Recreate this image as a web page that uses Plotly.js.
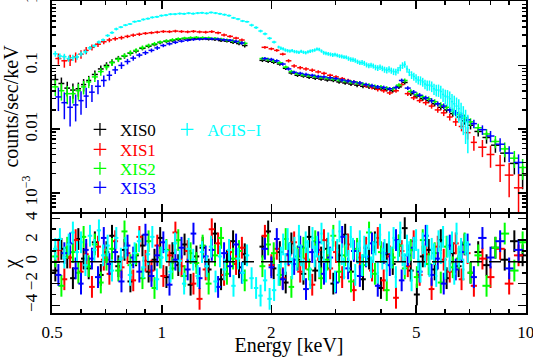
<!DOCTYPE html>
<html>
<head>
<meta charset="utf-8">
<script src="https://cdn.plot.ly/plotly-3.0.1.min.js"></script>
<style>
  html, body { margin: 0; padding: 0; background: #fff; }
  #chart { width: 533px; height: 357px; }
</style>
</head>
<body>
<div id="chart"></div>
<script>
// bin centres (keV): XIS0/XIS2 share grid A, XIS1/XIS3 grid B, ACIS-I its own
const eGridA = [0.51, 0.53, 0.55, 0.57, 0.59, 0.61, 0.63, 0.655, 0.68, 0.705, 0.73, 0.76, 0.79, 0.82, 0.85,
    0.885, 0.92, 0.955, 0.99, 1.03, 1.07, 1.11, 1.155, 1.2, 1.245, 1.295, 1.345, 1.4, 1.455, 1.51, 1.57, 1.63, 1.69,
    1.89, 1.96, 2.03, 2.11, 2.19, 2.27, 2.36, 2.45, 2.54, 2.64, 2.74, 2.85, 2.96, 3.07, 3.19, 3.31, 3.44, 3.57,
    3.71, 3.85, 4.0, 4.15, 4.31, 4.48, 4.65, 4.83, 5.02, 5.21, 5.41, 5.62, 5.84, 6.06, 6.3, 6.54, 6.79, 7.05,
    7.4, 7.8, 8.25, 8.75, 9.3, 9.8];
const eGridB = [0.52, 0.54, 0.56, 0.58, 0.60, 0.62, 0.643, 0.668, 0.693, 0.718, 0.745, 0.775, 0.805, 0.835, 0.868,
    0.902, 0.937, 0.972, 1.01, 1.05, 1.09, 1.133, 1.178, 1.222, 1.27, 1.32, 1.372, 1.428, 1.483, 1.54, 1.6, 1.66,
    1.92, 2.0, 2.07, 2.15, 2.23, 2.31, 2.4, 2.49, 2.59, 2.69, 2.79, 2.9, 3.01, 3.13, 3.25, 3.37, 3.5, 3.64,
    3.78, 3.92, 4.07, 4.23, 4.4, 4.56, 4.74, 4.92, 5.11, 5.31, 5.51, 5.73, 5.95, 6.18, 6.42, 6.66, 6.92,
    7.2, 7.6, 8.0, 8.5, 9.0, 9.55];
const eAcis = [0.51, 0.525, 0.54, 0.555, 0.57, 0.585, 0.60, 0.617, 0.635, 0.653, 0.672, 0.69,
    0.71, 0.73, 0.75, 0.772, 0.795, 0.818, 0.842, 0.866, 0.89, 0.916, 0.942, 0.97, 0.998, 1.027, 1.057, 1.088,
    1.12, 1.152, 1.185, 1.22, 1.255, 1.29, 1.328, 1.366, 1.405, 1.445, 1.487, 1.53, 1.574, 1.62, 1.667, 1.715,
    1.765, 1.816, 1.868, 1.922, 1.978, 2.035,
    2.094, 2.124, 2.155, 2.186, 2.217, 2.249, 2.281, 2.314, 2.347, 2.381,
    2.415, 2.45, 2.485, 2.521, 2.557, 2.594, 2.631, 2.669, 2.707, 2.746,
    2.785, 2.825, 2.866, 2.907, 2.949, 2.991, 3.034, 3.078, 3.122, 3.167,
    3.212, 3.258, 3.305, 3.352, 3.4, 3.45, 3.5, 3.55, 3.6, 3.652,
    3.705, 3.757, 3.81, 3.865, 3.92, 3.977, 4.035, 4.092, 4.15, 4.21,
    4.27, 4.332, 4.395, 4.457, 4.52, 4.585, 4.65, 4.717, 4.785, 4.855,
    4.925, 4.995, 5.065, 5.137, 5.21, 5.285, 5.36, 5.437, 5.515, 5.595,
    5.675, 5.757, 5.84, 5.925, 6.01, 6.095, 6.18, 6.27, 6.36, 6.452,
    6.545, 6.64, 6.735, 6.832, 6.93];

// counts/sec/keV
const rateXis0 = [0.060, 0.052, 0.044, 0.041, 0.043, 0.050, 0.058, 0.072, 0.088, 0.100, 0.112, 0.128, 0.140, 0.155,
    0.168, 0.185, 0.200, 0.212, 0.228, 0.238, 0.245, 0.255, 0.262, 0.258, 0.265, 0.262, 0.258, 0.255, 0.245,
    0.240, 0.230, 0.220, 0.205,
    0.120, 0.116, 0.112, 0.105, 0.090, 0.076, 0.070, 0.068, 0.065, 0.063, 0.061, 0.059, 0.058, 0.055, 0.053,
    0.051, 0.049, 0.047, 0.046, 0.044, 0.043, 0.042, 0.040, 0.046, 0.054, 0.036, 0.033, 0.030, 0.028, 0.025,
    0.022, 0.020, 0.0175, 0.0155, 0.0135, 0.0115, 0.0092, 0.0074, 0.0056, 0.0042, 0.0029, 0.0019];
const rateXis1 = [0.128, 0.118, 0.122, 0.135, 0.150, 0.172, 0.192, 0.215, 0.235, 0.250, 0.262, 0.272, 0.285, 0.298,
    0.308, 0.318, 0.325, 0.332, 0.340, 0.338, 0.345, 0.340, 0.336, 0.342, 0.335, 0.332, 0.338, 0.325, 0.300,
    0.285, 0.268, 0.250,
    0.192, 0.182, 0.172, 0.150, 0.118, 0.098, 0.092, 0.088, 0.084, 0.079, 0.075, 0.070, 0.066, 0.062, 0.058,
    0.055, 0.052, 0.048, 0.045, 0.042, 0.040, 0.037, 0.040, 0.050, 0.036, 0.031, 0.028, 0.026, 0.023, 0.020,
    0.018, 0.0155, 0.013, 0.011, 0.0088, 0.0062, 0.0052, 0.0040, 0.0027, 0.0019, 0.0012];
const rateXis2 = [0.046, 0.040, 0.036, 0.036, 0.040, 0.046, 0.055, 0.066, 0.080, 0.095, 0.110, 0.125, 0.142, 0.158,
    0.172, 0.190, 0.205, 0.218, 0.232, 0.242, 0.252, 0.262, 0.268, 0.272, 0.275, 0.272, 0.270, 0.265, 0.258,
    0.250, 0.242, 0.232, 0.222,
    0.128, 0.124, 0.118, 0.110, 0.094, 0.080, 0.074, 0.071, 0.069, 0.067, 0.065, 0.063, 0.061, 0.059, 0.057,
    0.055, 0.053, 0.051, 0.049, 0.047, 0.046, 0.044, 0.043, 0.049, 0.058, 0.039, 0.035, 0.032, 0.030, 0.027,
    0.024, 0.022, 0.019, 0.017, 0.015, 0.013, 0.0105, 0.0084, 0.0064, 0.0049, 0.0035, 0.0025];
const rateXis3 = [0.032, 0.026, 0.022, 0.024, 0.028, 0.033, 0.038, 0.047, 0.058, 0.070, 0.085, 0.100, 0.115, 0.130,
    0.145, 0.158, 0.172, 0.188, 0.205, 0.218, 0.230, 0.240, 0.248, 0.255, 0.258, 0.262, 0.260, 0.258, 0.252,
    0.248, 0.238, 0.225,
    0.128, 0.124, 0.118, 0.105, 0.088, 0.078, 0.075, 0.072, 0.070, 0.067, 0.066, 0.064, 0.062, 0.059, 0.057,
    0.055, 0.053, 0.050, 0.048, 0.046, 0.045, 0.043, 0.045, 0.058, 0.044, 0.038, 0.034, 0.031, 0.028, 0.025,
    0.023, 0.020, 0.018, 0.016, 0.014, 0.0122, 0.0098, 0.0078, 0.0058, 0.0042, 0.0030];
const rateAcis = [0.152, 0.140, 0.137, 0.128, 0.132, 0.136, 0.151, 0.163, 0.188, 0.203, 0.232, 0.251,
    0.294, 0.326, 0.372, 0.398, 0.428, 0.446, 0.485, 0.497, 0.525, 0.541, 0.566, 0.578, 0.604, 0.615, 0.636,
    0.638, 0.650, 0.644, 0.660, 0.648, 0.662, 0.668, 0.655, 0.676, 0.662, 0.645, 0.625, 0.604, 0.556, 0.534,
    0.497, 0.484, 0.428, 0.392, 0.346, 0.312, 0.266, 0.232,
    0.194, 0.186, 0.182, 0.174, 0.170, 0.168, 0.171, 0.165, 0.163, 0.160,
    0.166, 0.161, 0.158, 0.163, 0.167, 0.170, 0.174, 0.180, 0.178, 0.168,
    0.158, 0.155, 0.152, 0.149, 0.146, 0.148, 0.144, 0.140, 0.138, 0.135,
    0.134, 0.128, 0.124, 0.123, 0.120, 0.114, 0.110, 0.111, 0.108, 0.102,
    0.099, 0.101, 0.098, 0.093, 0.091, 0.094, 0.090, 0.086, 0.084, 0.087,
    0.083, 0.080, 0.079, 0.084, 0.092, 0.100, 0.104, 0.088, 0.078, 0.071,
    0.067, 0.063, 0.059, 0.058, 0.055, 0.051, 0.049, 0.049, 0.047, 0.043,
    0.041, 0.041, 0.039, 0.035, 0.033, 0.032, 0.030, 0.027, 0.025, 0.023,
    0.021, 0.018, 0.0155, 0.013, 0.0105];

// 1-sigma errors of the rates, in percent
const errXis0 = [22, 24, 26, 27, 25, 22, 18, 15, 13, 12, 11, 10, 9, 8, 8, 7, 7, 6, 6, 6, 6, 5, 5, 5, 5, 5, 5, 5, 5,
    5, 6, 6, 7,
    6, 6, 6, 6, 6, 6, 6, 6, 6, 6, 6, 6, 6, 6, 6, 7, 7, 7, 7, 7, 7, 7, 7, 7, 7, 8, 8, 8, 9, 9, 10, 10, 11, 12, 13,
    14, 17, 20, 24, 28, 33, 40];
const errXis1 = [20, 22, 20, 18, 15, 13, 11, 10, 9, 8, 7, 7, 6, 6, 6, 5, 5, 5, 5, 5, 5, 5, 5, 5, 5, 5, 5, 5, 5, 5,
    5, 6,
    5, 5, 5, 5, 6, 6, 6, 6, 6, 6, 6, 6, 6, 6, 6, 6, 7, 7, 7, 7, 7, 7, 7, 7, 8, 8, 8, 9, 9, 10, 11, 12, 14, 16, 22,
    26, 30, 38, 45, 55, 65];
const errXis2 = [28, 30, 32, 30, 28, 24, 20, 17, 14, 12, 11, 10, 9, 9, 8, 8, 7, 7, 6, 6, 6, 5, 5, 5, 5, 5, 5, 5, 5,
    6, 6, 6, 7,
    6, 6, 6, 6, 6, 6, 6, 6, 6, 6, 6, 6, 6, 6, 6, 7, 7, 7, 7, 7, 7, 7, 7, 7, 7, 8, 8, 8, 9, 9, 10, 10, 11, 12, 13,
    14, 16, 19, 22, 26, 30, 36];
const errXis3 = [40, 45, 50, 45, 40, 35, 30, 25, 20, 17, 14, 12, 10, 9, 8, 8, 7, 7, 6, 6, 6, 5, 5, 5, 5, 5, 5, 5, 5,
    5, 6, 6,
    6, 6, 6, 6, 6, 6, 6, 6, 6, 6, 6, 6, 6, 6, 6, 6, 7, 7, 7, 7, 7, 7, 7, 7, 7, 8, 8, 8, 9, 9, 10, 10, 11, 12, 13,
    15, 17, 20, 24, 28, 34];
const errAcis = [10, 10, 11, 11, 11, 10, 9, 8, 7, 6, 6, 5,
    5, 5, 5, 4, 4, 4, 4, 4, 4, 4, 4, 4, 4, 4, 4, 4, 4, 4, 4,
    4, 4, 4, 4, 4, 4, 4, 4, 4, 4, 4, 4, 4, 5,
    5, 5, 5, 5, 5,
    5, 6, 6, 6, 6, 6, 6, 6, 6, 6,
    6, 6, 6, 6, 6, 6, 6, 6, 6, 6,
    7, 7, 7, 7, 7, 7, 7, 7, 7, 7,
    7, 8, 8, 8, 8, 8, 8, 9, 9, 9,
    9, 9, 9, 10, 10, 10, 10, 11, 11, 11,
    11, 12, 12, 12, 12, 12, 12, 13, 13, 14,
    14, 15, 15, 16, 16, 17, 18, 18, 19, 20,
    21, 22, 23, 24, 26, 28, 30, 32, 34, 36,
    40, 44, 48, 55, 60];

// residuals (chi)
const chiXis0 = [-0.8, 1.2, 0.4, -1.5, 2.1, 0.3, -0.6, 1.8, -1.2, 0.9, 2.4, -0.4, 1.1, -1.8, 0.6, 1.5, -0.9, 0.2,
    2.2, -1.4, 0.8, -0.3, 1.6, -2.1, 0.5, 1.3, -0.7, 2.6, -1.6, 0.1, 1.9, -0.5, 0.7,
    1.4, 2.8, -0.6, 0.9, -1.9, 1.7, 0.2, -1.1, 2.3, -0.8, 0.4, 1.2, -2.0, 0.6, 2.5, -0.9, 1.0, -1.6, 0.3, 1.8,
    -2.4, 0.7, -0.2, 1.5, 3.1, -0.8, -3.0, 0.5, 1.1, -0.7, 2.0, -1.5, 0.8, -0.4, 1.6, -1.0, 0.9, -0.3, 1.3,
    0.2, 1.9, 0.6];
const chiXis1 = [1.1, -1.6, 0.4, 2.0, -0.9, 0.7, -2.3, 1.4, 0.2, -1.1, 1.9, -0.5, 0.8, -1.7, 2.3, 0.1, -0.8, 1.5,
    -1.3, 0.6, 2.7, -0.4, 1.0, -2.0, -3.4, -0.7, 3.0, 1.7, -1.2, 0.9, -0.2, 1.3,
    2.4, -0.3, 1.2, -1.5, 0.6, 1.8, -0.9, 0.3, -2.1, 1.1, 2.0, -0.6, 0.9, -1.4, 1.6, -2.6, 0.4, 1.3, -0.8, 2.2,
    -1.7, 0.5, -3.3, 1.0, -0.4, 1.9, -1.2, 0.7, -2.5, 1.4, 0.2, -0.9, 1.7, -1.6, 0.8, -2.2, 0.3, -1.4, 1.2,
    -2.0, 0.6];
const chiXis2 = [0.5, -2.2, 1.3, 0.9, -1.0, 2.3, -0.4, 1.6, -1.9, 0.2, 1.2, -0.8, 2.8, -0.3, 0.7, -1.5, 1.9, -2.4,
    0.4, 1.1, -0.6, 2.0, -1.3, 0.8, -0.1, 1.5, -2.0, 0.6, 2.2, -1.1, 0.3, 1.0, -1.7,
    -0.4, 1.6, 0.8, -1.2, 2.1, -2.3, 0.5, 1.3, -0.7, 1.9, -1.5, 0.2, 2.4, -0.9, 0.6, -1.8, 1.2, -0.3, 2.7, -1.1,
    0.9, -2.6, 0.4, 1.5, -0.6, 1.1, -1.4, 2.0, -0.2, 0.8, -1.9, 1.4, -0.5, 0.3, 1.7, -1.0, 0.6, -2.2, 1.3, 2.6,
    -0.8, 1.8];
const chiXis3 = [-1.2, 0.8, 1.7, -0.6, -2.0, 1.1, 0.3, -1.4, 2.2, -0.2, 0.9, -1.8, 1.5, 0.4, -0.9, 2.5, -1.3, 0.6,
    1.8, -2.1, 0.2, 1.3, -0.7, 2.6, -1.5, 0.5, 1.1, -2.3, 0.8, -0.4, 1.6, -1.0,
    1.2, -0.5, 2.1, -1.6, 0.7, -0.2, 1.4, -2.5, 0.9, 1.8, -1.1, 0.4, -1.9, 2.3, -0.6, 1.0, -1.3, 0.5, 1.7, -2.2,
    0.8, -0.3, 2.0, -1.7, 0.6, 1.3, -0.9, 2.4, -1.2, 0.3, -2.0, 1.5, -0.7, 0.9, 1.6, -1.4, 2.2, 0.4, 1.9, -0.6,
    1.1];
const chiAcis = [1.2, 2.1, 0.4, 1.6, 2.7, 0.9, 1.8, -0.3, 2.4, 1.1, 2.9, 0.6,
    1.5, -0.8, 2.2, 0.3, 1.3, -1.2, 0.8, 1.9, -0.5, 0.7, 2.3, -1.6, 0.4, 1.0, -0.9, 1.7, 0.1, -2.0, 1.2,
    0.2, -1.3, 0.9, -0.4, 1.4, -1.8, 0.5, -0.7, 1.1, -2.2, 0.3, -1.0, 0.6, -1.5,
    -2.4, -3.1, -1.7, -3.4, -2.6,
    -1.2, 0.4, 1.6, -0.2, 2.1, 0.8, -0.6, 1.3, 0.2, 2.4,
    0.6, -0.7, 1.8, 1.0, -1.5, 2.2, 0.5, 1.4, -0.4, 2.6,
    0.9, -0.9, 1.7, 0.3, 2.0, -1.8, 1.1, 2.8, 0.7, -0.6,
    1.5, 0.1, 2.3, 1.2, -1.2, 0.8, 1.9, -0.3, 1.4, 0.6,
    2.1, -0.5, 0.9, 1.6, -1.0, 2.5, 0.3, 1.1, -0.8, 1.8,
    0.4, 2.2, -1.4, 1.0, 2.7, 0.6, -0.2, 1.5, 0.9, -1.7,
    1.3, 2.0, 0.2, -0.9, 1.7, 0.5, 2.4, -0.4, 1.2, 0.7,
    -1.3, 1.9, 0.8, 2.3, -0.6, 1.4, 0.1, 1.8, -1.1, 2.6,
    0.5, 1.2, -0.7, 1.6, 0.9];

const names = ['XIS0', 'XIS1', 'XIS2', 'XIS3', 'ACIS\u2212I'];
const colors = ['#000000', '#ff0000', '#00ff00', '#0000ff', '#00ffff'];

// half bin width from the nearer neighbour (keeps the 1.7-1.9 keV gap open)
function halfWidths(e) {
    return e.map((v, i) => {
        const dl = i > 0 ? v - e[i - 1] : e[i + 1] - v;
        const dr = i < e.length - 1 ? e[i + 1] - v : v - e[i - 1];
        return Math.min(dl, dr) / 2;
    });
}

const sets = [
    { e: eGridA, rate: rateXis0, err: errXis0, chi: chiXis0 },
    { e: eGridB, rate: rateXis1, err: errXis1, chi: chiXis1 },
    { e: eGridA, rate: rateXis2, err: errXis2, chi: chiXis2 },
    { e: eGridB, rate: rateXis3, err: errXis3, chi: chiXis3 },
    { e: eAcis, rate: rateAcis, err: errAcis, chi: chiAcis }
];

let traces = [];
sets.forEach((s, i) => {
    traces.push({
        x: s.e, y: s.rate, xaxis: 'x', yaxis: 'y',
        type: 'scatter', mode: 'markers', marker: { size: 2, opacity: 0, color: colors[i] },
        error_x: { type: 'data', array: halfWidths(s.e), color: colors[i], thickness: 1.5, width: 0 },
        error_y: { type: 'data', array: s.rate.map((v, j) => v * s.err[j] / 100), color: colors[i], thickness: 1.5, width: 0 },
        showlegend: false, hoverinfo: 'skip'
    });
});
sets.forEach((s, i) => {
    traces.push({
        x: s.e, y: s.chi, xaxis: 'x2', yaxis: 'y2',
        type: 'scatter', mode: 'markers', marker: { size: 2, opacity: 0, color: colors[i] },
        error_x: { type: 'data', array: halfWidths(s.e), color: colors[i], thickness: 2, width: 0 },
        error_y: { type: 'constant', value: 1, color: colors[i], thickness: 2, width: 0 },
        showlegend: false, hoverinfo: 'skip'
    });
});

// legend keys, one legend box per detector like the xspec plot
const legendIds = ['legend', 'legend2', 'legend3', 'legend4', 'legend5'];
names.forEach((n, i) => {
    traces.push({
        x: [null], y: [null], xaxis: 'x', yaxis: 'y', type: 'scatter', mode: 'markers',
        marker: { symbol: 'cross-thin', size: 9, line: { width: 1.3, color: colors[i] } },
        name: n, legend: legendIds[i], showlegend: true
    });
});

function xAxis(extra) {
    return Object.assign({
        type: 'log', range: [Math.log10(0.5) - 0.0005, 1.0005],
        showline: true, linecolor: 'black', linewidth: 2, mirror: 'allticks',
        ticks: 'inside', ticklen: 8, tickwidth: 1.5, tickcolor: 'black',
        tickmode: 'array', tickvals: [0.5, 1, 2, 5, 10], ticktext: ['0.5', '1', '2', '5', '10'],
        ticklabeloverflow: 'allow',
        minor: { tickmode: 'array', tickvals: [0.6, 0.7, 0.8, 0.9, 3, 4, 6, 7, 8, 9], ticks: 'inside', ticklen: 4, tickwidth: 1.5, tickcolor: 'black' },
        showgrid: false, zeroline: false
    }, extra);
}

let logMinor = [];
[0.0001, 0.001, 0.01, 0.1].forEach(d => { for (let k = 2; k < 10; k++) logMinor.push(k * d); });

const legendPos = [[0.059, 0.587], [0.059, 0.523], [0.059, 0.462], [0.059, 0.401], [0.243, 0.587]];
const layout = {
    width: 533, height: 357,
    margin: { l: 52, r: 7, t: 1, b: 44 },
    paper_bgcolor: 'white', plot_bgcolor: 'white',
    font: { family: 'Liberation Serif, serif', size: 17, color: 'black' },
    xaxis: xAxis({ anchor: 'y', showticklabels: false }),
    xaxis2: xAxis({ anchor: 'y2', matches: 'x', ticklabelstandoff: 3, title: { text: 'Energy [keV]', standoff: 6 } }),
    yaxis: {
        type: 'log', range: [-3.3, 0.01], domain: [0.3237, 1], anchor: 'x',
        showline: true, linecolor: 'black', linewidth: 2, mirror: 'allticks',
        ticks: 'inside', ticklen: 8, tickwidth: 1.5, tickcolor: 'black',
        tickmode: 'array', tickvals: [0.001, 0.01, 0.1, 1], ticktext: ['10<sup>\u22123</sup>', '0.01', '0.1', '1'],
        tickangle: -90, ticklabelstandoff: 6, ticklabeloverflow: 'allow',
        minor: { tickmode: 'array', tickvals: logMinor, ticks: 'inside', ticklen: 4, tickwidth: 1.5, tickcolor: 'black' },
        showgrid: false, zeroline: false,
        title: { text: 'counts/sec/keV', standoff: 8 }
    },
    yaxis2: {
        range: [-4.7, 4.4], domain: [0, 0.3173], anchor: 'x2',
        showline: true, linecolor: 'black', linewidth: 2, mirror: 'allticks',
        ticks: 'inside', ticklen: 8, tickwidth: 1.5, tickcolor: 'black',
        tickmode: 'array', tickvals: [-4, -2, 0, 2, 4],
        tickangle: -90, ticklabelstandoff: 6,
        minor: { tickmode: 'array', tickvals: [-3, -1, 1, 3], ticks: 'inside', ticklen: 4, tickwidth: 1.5, tickcolor: 'black' },
        showgrid: false, zeroline: false,
        title: { text: '\u03c7', standoff: 8 }
    },
    shapes: [{
        type: 'line', xref: 'x2 domain', x0: 0, x1: 1, yref: 'y2', y0: 0, y1: 0,
        line: { color: 'black', width: 1.5, dash: '12px,7px' }, layer: 'above'
    }]
};
legendIds.forEach((id, i) => {
    layout[id] = {
        x: legendPos[i][0], y: legendPos[i][1], xanchor: 'left', yanchor: 'middle',
        bgcolor: 'rgba(0,0,0,0)', borderwidth: 0, itemwidth: 30,
        font: { family: 'Liberation Serif, serif', size: 17, color: colors[i] }
    };
});

Plotly.newPlot('chart', traces, layout, { displayModeBar: false, staticPlot: true });
</script>
</body>
</html>
